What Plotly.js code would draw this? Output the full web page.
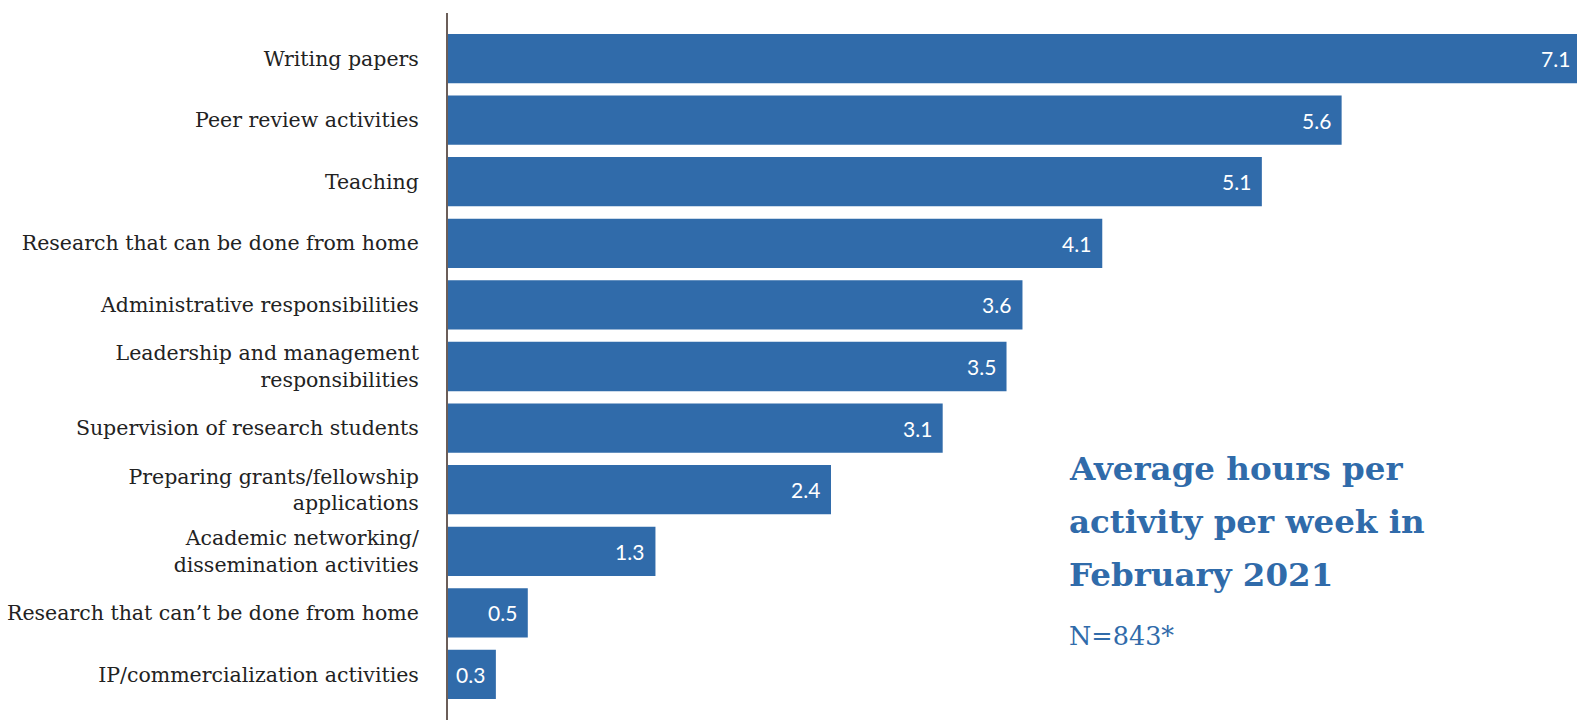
<!DOCTYPE html>
<html>
<head>
<meta charset="utf-8">
<script src="https://cdn.plot.ly/plotly-3.0.1.min.js"></script>
<style>
html,body{margin:0;padding:0;overflow:hidden;background:#fff;}
#chart{width:1582px;height:720px;}
</style>
</head>
<body>
<div id="chart"></div>
<script>
const categories = [
  "Writing papers",
  "Peer review activities",
  "Teaching",
  "Research that can be done from home",
  "Administrative responsibilities",
  "Leadership and management<br>responsibilities",
  "Supervision of research students",
  "Preparing grants/fellowship<br>applications",
  "Academic networking/<br>dissemination activities",
  "Research that can\u2019t be done from home",
  "IP/commercialization activities"
];
const hours = [7.1, 5.6, 5.1, 4.1, 3.6, 3.5, 3.1, 2.4, 1.3, 0.5, 0.3];
const titleLines = ["Average hours per", "activity per week in", "February 2021"];
const noteText = "N=843*";

const blue = "#306BAA";

const trace = {
  type: "bar",
  orientation: "h",
  x: hours,
  y: categories,
  marker: {color: blue, line: {width: 0}},
  hoverinfo: "x+y",
  showlegend: false
};

const annotations = hours.map((v, i) => ({
  x: v, y: categories[i], xref: "x", yref: "y",
  text: v.toFixed(1), showarrow: false,
  xanchor: "right", yanchor: "middle", xshift: -9,
  font: {family: "Lato, 'Open Sans', sans-serif", size: 21, color: "#ffffff"}
}));

const titleY = [0.3557, 0.2801, 0.2051];
titleLines.forEach((t, i) => annotations.push({
  x: 0.546, y: titleY[i], xref: "paper", yref: "paper",
  text: "<b>" + t + "</b>", showarrow: false,
  xanchor: "left", yanchor: "middle",
  font: {family: "'DejaVu Serif', serif", size: 32.5, color: blue}
}));
annotations.push({
  x: 0.546, y: 0.1194, xref: "paper", yref: "paper",
  text: noteText, showarrow: false, xanchor: "left", yanchor: "middle",
  font: {family: "'DejaVu Serif', serif", size: 25.5, color: blue}
});

const layout = {
  width: 1582, height: 720,
  margin: {l: 448, r: 1, t: 13, b: 0, pad: 0},
  paper_bgcolor: "#ffffff", plot_bgcolor: "#ffffff",
  bargap: 0.2,
  xaxis: {range: [0, 7.1], showgrid: false, zeroline: false, showticklabels: false, showline: false, ticks: ""},
  yaxis: {
    type: "category", range: [10.739, -0.739],
    showgrid: false, zeroline: false,
    showline: true, linecolor: "#6b5e59", linewidth: 2,
    ticks: "", ticklabelstandoff: 23,
    tickfont: {family: "'DejaVu Serif', serif", size: 20.5, color: "#222222"}
  },
  annotations: annotations
};

Plotly.newPlot("chart", [trace], layout, {displayModeBar: false, staticPlot: true});
</script>
</body>
</html>
